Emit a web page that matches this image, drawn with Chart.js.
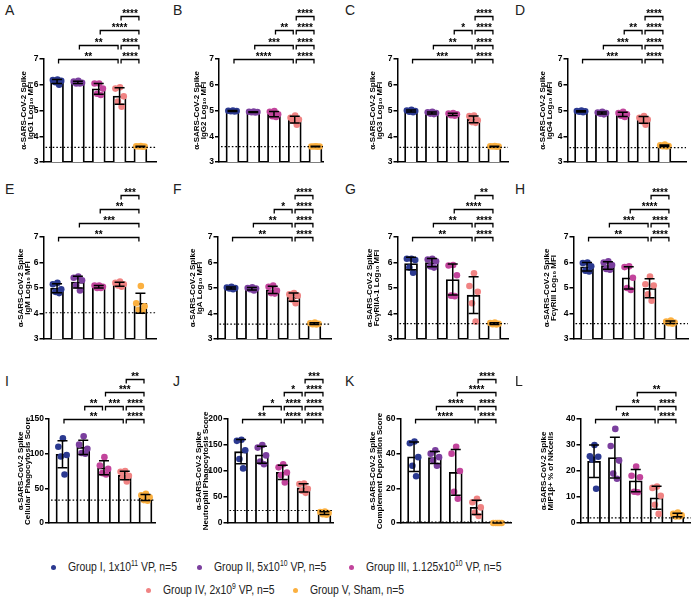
<!DOCTYPE html>
<html>
<head>
<meta charset="utf-8">
<script src="https://cdn.jsdelivr.net/npm/chart.js@4.4.1/dist/chart.umd.min.js"></script>
<style>
body { margin:0; background:#fff; width:691px; height:598px; position:relative; overflow:hidden; font-family:'Liberation Sans', Arial, sans-serif; }
.panel { position:absolute; }
.letter { position:absolute; font-size:14px; color:#222; line-height:16px; }
.leg { position:absolute; font-size:13px; color:#222; white-space:nowrap; line-height:14px; transform:scaleX(0.8); transform-origin:left center; }
.leg sup { font-size:8.5px; vertical-align:5px; line-height:0; }
.dot { position:absolute; width:5px; height:5px; border-radius:50%; }
</style>
</head>
<body>
<script>
const groupNames = ['Group I, 1x10<sup>11</sup> VP, n=5', 'Group II, 5x10<sup>10</sup> VP, n=5',
    'Group III, 1.125x10<sup>10</sup> VP, n=5', 'Group IV, 2x10<sup>9</sup> VP, n=5', 'Group V, Sham, n=5'];
const groupColors = ['#2b3990', '#7b3f9e', '#c2449c', '#f08383', '#fbb040'];

// values per group (5 animals each)
const igg1 = [[6.2, 6.18, 6.15, 6.1, 6.0], [6.15, 6.12, 6.08, 6.05, 6.05], [6.05, 6.05, 5.85, 5.65, 5.6], [5.9, 5.85, 5.55, 5.35, 5.15], [3.62, 3.61, 3.6, 3.6, 3.59]];
const igg2 = [[5.0, 4.99, 4.98, 4.97, 4.96], [4.96, 4.95, 4.94, 4.93, 4.92], [4.98, 4.95, 4.85, 4.78, 4.75], [4.8, 4.72, 4.65, 4.6, 4.45], [3.61, 3.6, 3.6, 3.6, 3.59]];
const igg3 = [[5.03, 5.0, 4.98, 4.95, 4.93], [4.95, 4.93, 4.9, 4.88, 4.86], [4.9, 4.88, 4.85, 4.82, 4.8], [4.8, 4.78, 4.62, 4.55, 4.52], [3.62, 3.61, 3.6, 3.6, 3.59]];
const igg4 = [[5.0, 4.98, 4.97, 4.95, 4.93], [4.95, 4.92, 4.9, 4.88, 4.85], [4.95, 4.9, 4.85, 4.8, 4.75], [4.78, 4.72, 4.65, 4.58, 4.45], [3.68, 3.65, 3.62, 3.61, 3.6]];
const igm = [[5.2, 5.15, 4.95, 4.85, 4.8], [5.45, 5.4, 5.3, 5.1, 4.9], [5.1, 5.1, 5.05, 5.0, 5.0], [5.25, 5.2, 5.15, 5.1, 5.05], [5.08, 4.4, 4.28, 4.15, 4.1]];
const iga = [[5.05, 5.02, 5.0, 4.98, 4.95], [5.03, 5.0, 4.98, 4.95, 4.9], [5.1, 5.05, 4.9, 4.8, 4.78], [4.8, 4.75, 4.7, 4.55, 4.4], [3.65, 3.62, 3.6, 3.58, 3.57]];
const fcr2a = [[6.15, 6.15, 6.1, 5.8, 5.6], [6.15, 6.12, 6.05, 5.85, 5.8], [5.9, 5.88, 5.5, 4.7, 4.68], [5.58, 5.08, 4.85, 4.4, 3.68], [3.65, 3.63, 3.6, 3.58, 3.57]];
const fcr3 = [[6.0, 5.98, 5.85, 5.68, 5.65], [6.05, 6.0, 5.9, 5.75, 5.72], [5.85, 5.82, 5.4, 5.0, 4.92], [5.45, 5.15, 5.1, 4.75, 4.5], [3.72, 3.68, 3.65, 3.62, 3.6]];
const adcp = [[122, 110, 98, 96, 70], [125, 113, 107, 101, 100], [95, 83, 78, 72, 70], [75, 74, 68, 66, 60], [42, 40, 37, 33, 32]];
const adnp = [[160, 158, 140, 123, 105], [150, 145, 130, 118, 113], [113, 107, 97, 92, 78], [76, 75, 66, 62, 58], [22, 21, 19, 17, 16]];
const adcd = [[47, 46, 38, 33, 27], [42, 40, 38, 36, 33], [44, 40, 30, 18, 14], [14, 12, 9, 6, 4], [0, 0, 0, 0, 0]];
const nkMip = [[30, 25.7, 25.5, 24.4, 13.2], [36.2, 29.6, 24, 19, 17], [21.7, 18.2, 17.6, 12, 11.8], [14, 13.5, 10.5, 7, 3.5], [4, 3.5, 3, 2.5, 2.5]];

const cutoffs = [3.57, 3.6, 3.57, 3.56, 4.03, 3.58, 3.6, 3.6, 33, 24, 0.5, 2];
const yTitles = ['IgG1 Log₁₀ MFI', 'IgG2 Log₁₀ MFI', 'IgG3 Log₁₀ MFI', 'IgG4 Log₁₀ MFI', 'IgM Log₁₀ MFI', 'IgA Log₁₀ MFI',
    'FcγRIIA-1 Log₁₀ MFI', 'FcγRIII Log₁₀ MFI', 'Cellular Phagocytosis Score', 'Neutrophil Phagocytosis Score',
    'Complement Deposition Score', 'MIP1β+ % of NKcells'];
const yMin = [3, 3, 3, 3, 3, 3, 3, 3, 0, 0, 0, 0];
const yMax = [7, 7, 7, 7, 7, 7, 7, 7, 150, 200, 60, 40];
const yStep = [1, 1, 1, 1, 1, 1, 1, 1, 50, 50, 20, 10];
const letters = ['A', 'B', 'C', 'D', 'E', 'F', 'G', 'H', 'I', 'J', 'K', 'L'];

// significance brackets: [from group, to group, label, row]
const sigA = [[0, 3, '**', 0], [3, 4, '****', 0], [1, 3, '**', 1], [3, 4, '****', 1], [2, 4, '****', 2], [3, 4, '****', 3]];
const sigB = [[0, 3, '****', 0], [3, 4, '****', 0], [1, 3, '***', 1], [3, 4, '****', 1], [2, 3, '**', 2], [3, 4, '****', 2], [3, 4, '****', 3]];
const sigC = [[0, 3, '***', 0], [3, 4, '****', 0], [1, 3, '**', 1], [3, 4, '****', 1], [2, 3, '*', 2], [3, 4, '****', 2], [3, 4, '****', 3]];
const sigD = [[0, 3, '***', 0], [3, 4, '****', 0], [1, 3, '***', 1], [3, 4, '****', 1], [2, 3, '**', 2], [3, 4, '****', 2], [3, 4, '****', 3]];
const sigE = [[0, 4, '**', 0], [1, 4, '***', 1], [2, 4, '**', 2], [3, 4, '***', 3]];
const sigF = [[0, 3, '**', 0], [3, 4, '****', 0], [1, 3, '**', 1], [3, 4, '****', 1], [2, 3, '*', 2], [3, 4, '****', 2], [3, 4, '****', 3]];
const sigG = [[0, 3, '**', 0], [3, 4, '****', 0], [1, 3, '**', 1], [3, 4, '****', 1], [2, 4, '****', 2], [3, 4, '**', 3]];
const sigH = [[0, 3, '**', 0], [3, 4, '****', 0], [1, 3, '***', 1], [3, 4, '****', 1], [2, 4, '****', 2], [3, 4, '****', 3]];
const sigI = [[0, 3, '**', 0], [3, 4, '****', 0], [1, 2, '**', 1], [2, 3, '***', 1], [3, 4, '****', 1], [2, 4, '***', 2], [3, 4, '**', 3]];
const sigJ = [[0, 2, '**', 0], [2, 3, '****', 0], [3, 4, '****', 0], [1, 2, '*', 1], [2, 3, '****', 1], [3, 4, '****', 1], [2, 3, '*', 2], [3, 4, '****', 2], [3, 4, '***', 3]];
const sigK = [[0, 3, '****', 0], [3, 4, '****', 0], [1, 3, '****', 1], [3, 4, '****', 1], [2, 4, '****', 2], [3, 4, '****', 3]];
const sigL = [[0, 3, '**', 0], [3, 4, '****', 0], [1, 3, '**', 1], [3, 4, '****', 1], [2, 4, '**', 2]];

const allVals = [igg1, igg2, igg3, igg4, igm, iga, fcr2a, fcr3, adcp, adnp, adcd, nkMip];
const allSig = [sigA, sigB, sigC, sigD, sigE, sigF, sigG, sigH, sigI, sigJ, sigK, sigL];

// layout: rows (canvas top, axis top, axis bottom, bracket gap, letter top), panels [title left, axis x, axis right]
const rows = [[0, 59, 170, 14.5, 2], [178, 237, 347, 14, 181], [370, 419, 531, 13.3, 373]];
const cols = [[19.5, 43, 155], [193, 219, 323], [368.5, 397, 507], [538.5, 567, 685],
    [16.5, 43, 155], [188.5, 217, 330], [365.5, 397, 507], [542.5, 573, 687],
    [17, 49, 155], [194.5, 227, 332], [368.5, 400, 510], [539.5, 580, 690]];
const letterX = [5, 173, 345, 515];
const jitter = [0.02, -0.2, 0.2, -0.08, 0.1];
const FONT = "'Liberation Sans', Arial, sans-serif";

const mean = a => a.reduce((s, v) => s + v, 0) / a.length;
const sd = a => { const m = mean(a); return Math.sqrt(a.reduce((s, v) => s + (v - m) ** 2, 0) / (a.length - 1)); };

function extrasFor(vals, cutoff, sig, gap) {
    return {
        id: 'extras',
        afterDatasetsDraw(chart) {
            const { ctx, chartArea: ca, scales: { x, y } } = chart;
            ctx.save();
            ctx.strokeStyle = '#000';
            ctx.lineWidth = 1.2;
            ctx.setLineDash([1.6, 2]);
            const yc = y.getPixelForValue(cutoff);
            ctx.beginPath(); ctx.moveTo(ca.left + 2, yc); ctx.lineTo(ca.right, yc); ctx.stroke();
            ctx.setLineDash([]);
            ctx.lineWidth = 1.5;
            vals.forEach((v, i) => {
                const m = mean(v), s = sd(v);
                const px = x.getPixelForValue(i);
                const t = y.getPixelForValue(m + s), b = y.getPixelForValue(Math.max(m - s, y.min));
                ctx.beginPath();
                ctx.moveTo(px, t); ctx.lineTo(px, b);
                ctx.moveTo(px - 5, t); ctx.lineTo(px + 5, t);
                if (m - s > y.min) { ctx.moveTo(px - 5, b); ctx.lineTo(px + 5, b); }
                ctx.stroke();
            });
            ctx.restore();
        },
        afterDraw(chart) {
            const { ctx, chartArea: ca, scales: { x } } = chart;
            ctx.save();
            ctx.strokeStyle = '#000';
            ctx.fillStyle = '#000';
            ctx.lineWidth = 1.3;
            ctx.font = 'bold 10px ' + FONT;
            ctx.textAlign = 'center';
            ctx.textBaseline = 'alphabetic';
            sig.forEach(([a, b, label, row]) => {
                const yy = Math.round(ca.top - row * gap) + 0.5;
                const x1 = x.getPixelForValue(a) + 1.5, x2 = x.getPixelForValue(b) - 1.5;
                ctx.beginPath();
                ctx.moveTo(x1, yy + 4); ctx.lineTo(x1, yy); ctx.lineTo(x2, yy); ctx.lineTo(x2, yy + 4);
                ctx.stroke();
                ctx.fillText(label, (x1 + x2) / 2, yy + 0.5);
            });
            ctx.restore();
        }
    };
}

allVals.forEach((vals, p) => {
    const [top, axisTop, axisBottom, gap, letterY] = rows[Math.floor(p / 4)];
    const [left, axisX, right] = cols[p];
    const w = Math.round(right + 6 - left);
    const h = axisBottom + 7 - top;
    const yW = axisX - left;
    const xMax = -0.65 + (right - axisX) / 20.75;

    const lt = document.createElement('div');
    lt.className = 'letter';
    lt.style.left = letterX[p % 4] + 'px';
    lt.style.top = letterY + 'px';
    lt.textContent = letters[p];
    document.body.appendChild(lt);

    const div = document.createElement('div');
    div.className = 'panel';
    div.style.left = left + 'px';
    div.style.top = top + 'px';
    const cv = document.createElement('canvas');
    cv.width = w; cv.height = h;
    cv.style.width = w + 'px'; cv.style.height = h + 'px';
    div.appendChild(cv);
    document.body.appendChild(div);

    const datasets = [{
        type: 'bar',
        data: vals.map((v, i) => ({ x: i, y: mean(v) })),
        backgroundColor: '#fff',
        borderColor: '#000',
        borderWidth: 1.8,
        barThickness: 13,
        order: 3
    }];
    vals.forEach((v, i) => {
        datasets.push({
            type: 'scatter',
            data: v.map((val, k) => ({ x: i + jitter[k], y: val })),
            backgroundColor: groupColors[i],
            borderWidth: 0,
            pointRadius: 3.3,
            clip: false,
            order: 1
        });
    });

    new Chart(cv, {
        type: 'bar',
        data: { datasets },
        options: {
            responsive: false,
            animation: false,
            events: [],
            layout: { padding: { top: axisTop - top, bottom: 7, left: 0, right: 6 } },
            plugins: { legend: { display: false }, tooltip: { enabled: false } },
            scales: {
                x: {
                    type: 'linear', min: -0.65, max: xMax, offset: false,
                    ticks: { display: false },
                    grid: { display: false },
                    border: { color: '#000', width: 1.5 }
                },
                y: {
                    min: yMin[p], max: yMax[p],
                    ticks: { stepSize: yStep[p], color: '#000', padding: 1, font: { family: FONT, size: 8.5, weight: 'bold' } },
                    grid: { drawOnChartArea: false, color: '#000', lineWidth: 1.5, tickLength: 4 },
                    border: { color: '#000', width: 1.5 },
                    title: {
                        display: true, text: ['α-SARS-CoV-2 Spike', yTitles[p]], color: '#000',
                        font: { family: FONT, size: 8, weight: 'bold', lineHeight: 0.9 },
                        padding: { top: 0, bottom: 0 }
                    },
                    afterFit(scale) { scale.width = yW; }
                }
            }
        },
        plugins: [extrasFor(vals, cutoffs[p], allSig[p], gap)]
    });
});

// legend below the panels
const legendPos = [[53, 567], [199, 567], [351, 567], [148, 590], [295, 590]];
groupNames.forEach((name, i) => {
    const [dx, dy] = legendPos[i];
    const d = document.createElement('div');
    d.className = 'dot';
    d.style.background = groupColors[i];
    d.style.left = (dx - 2.5) + 'px';
    d.style.top = (dy - 2.5) + 'px';
    document.body.appendChild(d);
    const t = document.createElement('div');
    t.className = 'leg';
    t.innerHTML = name;
    t.style.left = (dx + 15) + 'px';
    t.style.top = (dy - 7) + 'px';
    document.body.appendChild(t);
});
</script>
</body>
</html>
